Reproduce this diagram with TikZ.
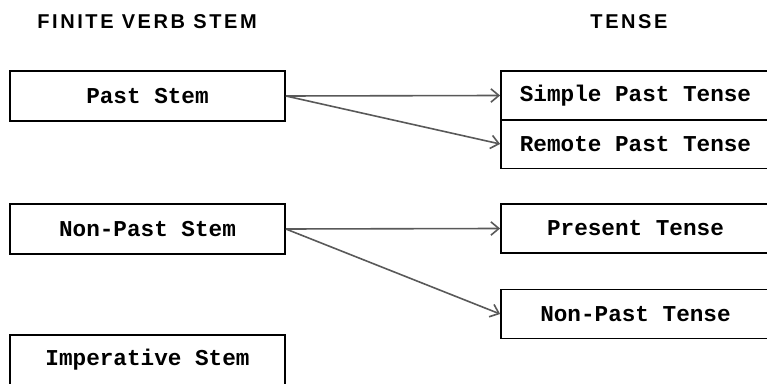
\documentclass[tikz,border=0pt]{standalone}
\usepackage{fontspec}
\setmonofont{Liberation Mono}
\newfontfamily\headfont[LetterSpace=13]{Liberation Sans}
\usetikzlibrary{arrows.meta}
\begin{document}
\begin{tikzpicture}[x=0.75pt,y=-0.75pt,
  stembox/.style={draw=black,line width=1.3pt,rectangle,minimum width=206.25pt,minimum height=37.5pt,inner sep=0pt,font=\ttfamily\bfseries\fontsize{17}{20}\selectfont},
  tensebox/.style={stembox,minimum width=210pt,minimum height=36.75pt},
  head/.style={font=\headfont\bfseries\fontsize{15}{18}\selectfont,inner sep=0pt},
  conn/.style={draw=black!65,line width=1.2pt,-{Straight Barb[length=6pt,width=10pt,line width=1.2pt]}}]
\useasboundingbox (0,0) rectangle (767,384);
\clip (0,0) rectangle (767,384);
\node[head] (h1) at (147,22) {FINITE VERB STEM};
\node[head] (h2) at (629,22) {TENSE};
\node[stembox] (past) at (147.5,96) {Past Stem};
\node[stembox] (nonpast) at (147.5,229) {Non-Past Stem};
\node[stembox] (imp) at (147.5,360) {Imperative Stem};
\node[tensebox] (simple) at (641,95.5) {Simple Past Tense\hspace*{8.25pt}};
\node[tensebox] (remote) at (641,144) {Remote Past Tense\hspace*{8.25pt}};
\node[tensebox] (present) at (641,228.5) {Present Tense\hspace*{8.25pt}};
\node[tensebox] (nonpastt) at (641,314) {Non-Past Tense\hspace*{8.25pt}};
\draw[conn] (past.east) -- (simple.west);
\draw[conn] (past.east) -- (remote.west);
\draw[conn] (nonpast.east) -- (present.west);
\draw[conn] (nonpast.east) -- (nonpastt.west);
\end{tikzpicture}
\end{document}
